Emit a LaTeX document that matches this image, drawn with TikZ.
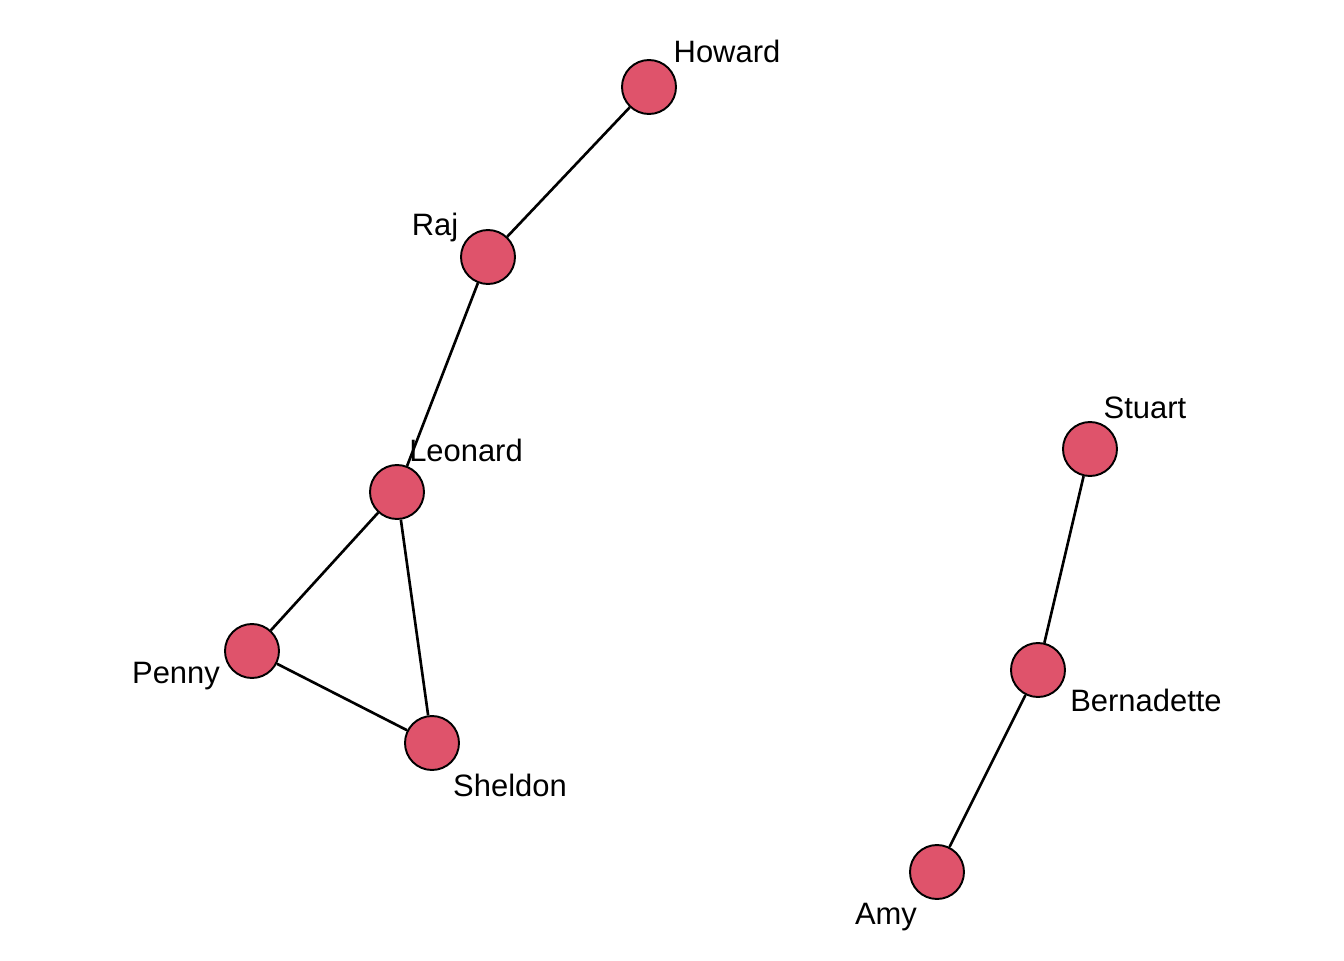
\documentclass[tikz,border=0pt]{standalone}
\usepackage{fontspec}
\setmainfont{Liberation Sans}
\usepackage{xcolor}
\usepackage{tikz}
\usetikzlibrary{positioning}
\definecolor{vertexred}{HTML}{DF536B}

\begin{document}
\begin{tikzpicture}[scale=1.0,
    vertex/.style={circle, draw=black, line width=0.55pt, fill=vertexred,
      minimum size=0.54cm, inner sep=0pt},
    vlabel/.style={anchor=base, inner sep=0pt, font=\fontsize{8.8pt}{10pt}\selectfont},
    edge/.style={draw=black, line width=0.75pt}]

  % canvas
  \useasboundingbox (0,0) rectangle (13.44,9.6);

  % vertices
  \node[vertex] (howard)     at (6.49,8.73) {};
  \node[vertex] (raj)        at (4.88,7.03) {};
  \node[vertex] (leonard)    at (3.97,4.68) {};
  \node[vertex] (penny)      at (2.52,3.09) {};
  \node[vertex] (sheldon)    at (4.32,2.17) {};
  \node[vertex] (stuart)     at (10.90,5.11) {};
  \node[vertex] (bernadette) at (10.38,2.90) {};
  \node[vertex] (amy)        at (9.37,0.88) {};

  % edges
  \draw[edge] (howard) -- (raj);
  \draw[edge] (raj) -- (leonard);
  \draw[edge] (leonard) -- (penny);
  \draw[edge] (leonard) -- (sheldon);
  \draw[edge] (penny) -- (sheldon);
  \draw[edge] (stuart) -- (bernadette);
  \draw[edge] (bernadette) -- (amy);

  % vertex labels
  \node[vlabel] (howardlbl)     at (7.27,8.98) {Howard};
  \node[vlabel] (rajlbl)        at (4.35,7.25) {Raj};
  \node[vlabel] (leonardlbl)    at (4.66,4.99) {Leonard};
  \node[vlabel] (pennylbl)      at (1.76,2.77) {Penny};
  \node[vlabel] (sheldonlbl)    at (5.10,1.64) {Sheldon};
  \node[vlabel] (stuartlbl)     at (11.45,5.42) {Stuart};
  \node[vlabel] (bernadettelbl) at (11.46,2.49) {Bernadette};
  \node[vlabel] (amylbl)        at (8.86,0.36) {Amy};

\end{tikzpicture}
\end{document}
